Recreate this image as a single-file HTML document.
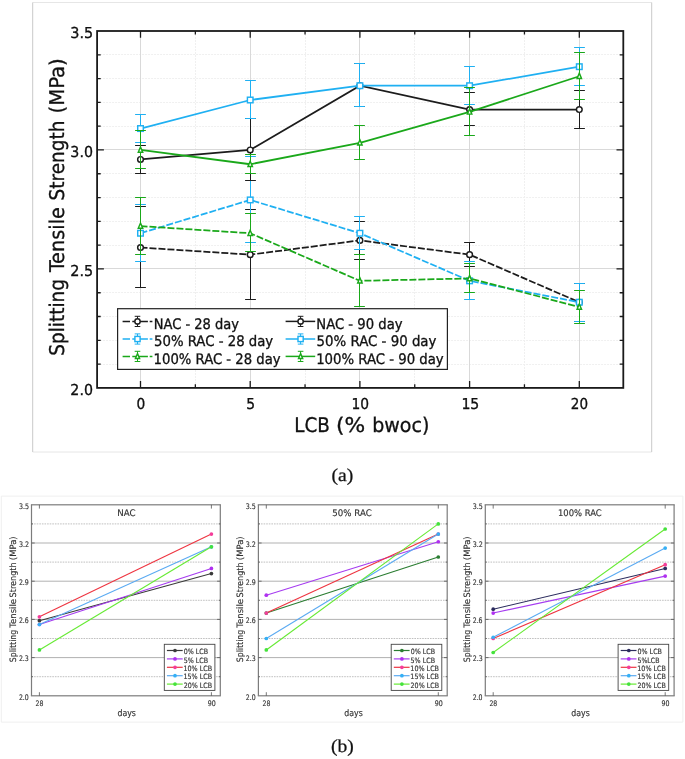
<!DOCTYPE html>
<html lang="en"><head><meta charset="utf-8"><title>Splitting Tensile Strength</title>
<style>html,body{margin:0;padding:0;background:#fff;}body{width:685px;height:759px;overflow:hidden;}svg{display:block;}text{text-rendering:geometricPrecision;}.t{font-family:"DejaVu Sans Condensed", "DejaVu Sans", "Liberation Sans", sans-serif;fill:#111;stroke:#111;stroke-width:0.3px;}.b{font-family:"DejaVu Sans Condensed", "DejaVu Sans", "Liberation Sans", sans-serif;fill:#333;stroke:#333;stroke-width:0.15px;}.s{font-family:"Liberation Serif", serif;fill:#111;stroke:#111;stroke-width:0.25px;}</style></head><body>
<svg width="685" height="759" viewBox="0 0 685 759">
<rect width="685" height="759" fill="#fff"/>
<g fill="none">
<path d="M32.7 2.5 H651.7" stroke="#e6e6e6" stroke-width="1"/>
<path d="M32.7 452.0 H651.7" stroke="#e6e6e6" stroke-width="1"/>
<path d="M32.7 2.5 V452.0 M651.7 2.5 V452.0" stroke="#c9c9c9" stroke-width="1"/>
</g>
<g fill="none">
<path d="M97.1 364.50 H623.3 M97.1 340.50 H623.3 M97.1 316.50 H623.3 M97.1 292.50 H623.3 M97.1 245.50 H623.3 M97.1 221.50 H623.3 M97.1 197.50 H623.3 M97.1 173.50 H623.3 M97.1 126.50 H623.3 M97.1 102.50 H623.3 M97.1 78.50 H623.3 M97.1 54.50 H623.3 " stroke="#f0f0f0" stroke-width="1" stroke-dasharray="2 1"/>
<path d="M195.50 31.0 V387.9 M305.50 31.0 V387.9 M414.50 31.0 V387.9 M524.50 31.0 V387.9 " stroke="#f0f0f0" stroke-width="1" stroke-dasharray="2 1"/>
<path d="M97.1 268.50 H623.3 M97.1 149.50 H623.3 M140.50 31.0 V387.9 M250.50 31.0 V387.9 M359.50 31.0 V387.9 M469.50 31.0 V387.9 M579.50 31.0 V387.9 " stroke="#d9d9d9" stroke-width="1"/>
</g>
<polyline points="140.50,247.52 250.20,254.66 359.90,240.38 469.60,254.66 579.30,302.24" fill="none" stroke="#1c1c1c" stroke-width="1.75" stroke-dasharray="7 2"/>
<path d="M140.50 206.50 V287.50 M135.10 206.50 h10.8 M135.10 287.50 h10.8 M250.50 209.50 V299.50 M245.10 209.50 h10.8 M245.10 299.50 h10.8 M359.50 221.50 V259.50 M354.10 221.50 h10.8 M354.10 259.50 h10.8 M469.50 242.50 V266.50 M464.10 242.50 h10.8 M464.10 266.50 h10.8 M579.50 283.50 V321.50 M574.10 283.50 h10.8 M574.10 321.50 h10.8 " fill="none" stroke="#1c1c1c" stroke-width="1"/>
<circle cx="140.50" cy="247.52" r="2.85" fill="#fff" stroke="#1c1c1c" stroke-width="1.45"/>
<circle cx="250.20" cy="254.66" r="2.85" fill="#fff" stroke="#1c1c1c" stroke-width="1.45"/>
<circle cx="359.90" cy="240.38" r="2.85" fill="#fff" stroke="#1c1c1c" stroke-width="1.45"/>
<circle cx="469.60" cy="254.66" r="2.85" fill="#fff" stroke="#1c1c1c" stroke-width="1.45"/>
<circle cx="579.30" cy="302.24" r="2.85" fill="#fff" stroke="#1c1c1c" stroke-width="1.45"/>
<polyline points="140.50,233.24 250.20,199.93 359.90,233.24 469.60,280.83 579.30,302.24" fill="none" stroke="#1fb0f2" stroke-width="1.75" stroke-dasharray="7 2"/>
<path d="M140.50 204.50 V261.50 M135.10 204.50 h10.8 M135.10 261.50 h10.8 M250.50 156.50 V242.50 M245.10 156.50 h10.8 M245.10 242.50 h10.8 M359.50 216.50 V249.50 M354.10 216.50 h10.8 M354.10 249.50 h10.8 M469.50 261.50 V299.50 M464.10 261.50 h10.8 M464.10 299.50 h10.8 M579.50 283.50 V321.50 M574.10 283.50 h10.8 M574.10 321.50 h10.8 " fill="none" stroke="#1fb0f2" stroke-width="1"/>
<rect x="137.71" y="230.45" width="5.58" height="5.58" fill="#fff" stroke="#1fb0f2" stroke-width="1.45"/>
<rect x="247.41" y="197.14" width="5.58" height="5.58" fill="#fff" stroke="#1fb0f2" stroke-width="1.45"/>
<rect x="357.11" y="230.45" width="5.58" height="5.58" fill="#fff" stroke="#1fb0f2" stroke-width="1.45"/>
<rect x="466.81" y="278.04" width="5.58" height="5.58" fill="#fff" stroke="#1fb0f2" stroke-width="1.45"/>
<rect x="576.51" y="299.45" width="5.58" height="5.58" fill="#fff" stroke="#1fb0f2" stroke-width="1.45"/>
<polyline points="140.50,226.11 250.20,233.24 359.90,280.83 469.60,278.45 579.30,307.00" fill="none" stroke="#1aa81a" stroke-width="1.75" stroke-dasharray="7 2"/>
<path d="M140.50 197.50 V254.50 M135.10 197.50 h10.8 M135.10 254.50 h10.8 M250.50 213.50 V251.50 M245.10 213.50 h10.8 M245.10 251.50 h10.8 M359.50 254.50 V306.50 M354.10 254.50 h10.8 M354.10 306.50 h10.8 M469.50 263.50 V292.50 M464.10 263.50 h10.8 M464.10 292.50 h10.8 M579.50 290.50 V323.50 M574.10 290.50 h10.8 M574.10 323.50 h10.8 " fill="none" stroke="#1aa81a" stroke-width="1"/>
<path d="M140.50 223.05 L142.72 228.33 L138.28 228.33 Z" fill="#fff" stroke="#1aa81a" stroke-width="1.45" stroke-linejoin="miter"/>
<path d="M250.20 230.18 L252.42 235.46 L247.98 235.46 Z" fill="#fff" stroke="#1aa81a" stroke-width="1.45" stroke-linejoin="miter"/>
<path d="M359.90 277.77 L362.12 283.05 L357.68 283.05 Z" fill="#fff" stroke="#1aa81a" stroke-width="1.45" stroke-linejoin="miter"/>
<path d="M469.60 275.39 L471.82 280.67 L467.38 280.67 Z" fill="#fff" stroke="#1aa81a" stroke-width="1.45" stroke-linejoin="miter"/>
<path d="M579.30 303.94 L581.52 309.22 L577.08 309.22 Z" fill="#fff" stroke="#1aa81a" stroke-width="1.45" stroke-linejoin="miter"/>
<polyline points="140.50,159.48 250.20,149.97 359.90,85.72 469.60,109.52 579.30,109.52" fill="none" stroke="#1c1c1c" stroke-width="1.75"/>
<path d="M140.50 145.50 V173.50 M135.10 145.50 h10.8 M135.10 173.50 h10.8 M250.50 118.50 V180.50 M245.10 118.50 h10.8 M245.10 180.50 h10.8 M359.50 63.50 V106.50 M354.10 63.50 h10.8 M354.10 106.50 h10.8 M469.50 92.50 V125.50 M464.10 92.50 h10.8 M464.10 125.50 h10.8 M579.50 90.50 V128.50 M574.10 90.50 h10.8 M574.10 128.50 h10.8 " fill="none" stroke="#1c1c1c" stroke-width="1"/>
<circle cx="140.50" cy="159.48" r="2.85" fill="#fff" stroke="#1c1c1c" stroke-width="1.45"/>
<circle cx="250.20" cy="149.97" r="2.85" fill="#fff" stroke="#1c1c1c" stroke-width="1.45"/>
<circle cx="359.90" cy="85.72" r="2.85" fill="#fff" stroke="#1c1c1c" stroke-width="1.45"/>
<circle cx="469.60" cy="109.52" r="2.85" fill="#fff" stroke="#1c1c1c" stroke-width="1.45"/>
<circle cx="579.30" cy="109.52" r="2.85" fill="#fff" stroke="#1c1c1c" stroke-width="1.45"/>
<polyline points="140.50,128.55 250.20,100.00 359.90,85.72 469.60,85.72 579.30,66.69" fill="none" stroke="#1fb0f2" stroke-width="1.75"/>
<path d="M140.50 114.50 V142.50 M135.10 114.50 h10.8 M135.10 142.50 h10.8 M250.50 80.50 V118.50 M245.10 80.50 h10.8 M245.10 118.50 h10.8 M359.50 63.50 V106.50 M354.10 63.50 h10.8 M354.10 106.50 h10.8 M469.50 66.50 V104.50 M464.10 66.50 h10.8 M464.10 104.50 h10.8 M579.50 47.50 V85.50 M574.10 47.50 h10.8 M574.10 85.50 h10.8 " fill="none" stroke="#1fb0f2" stroke-width="1"/>
<rect x="137.71" y="125.76" width="5.58" height="5.58" fill="#fff" stroke="#1fb0f2" stroke-width="1.45"/>
<rect x="247.41" y="97.21" width="5.58" height="5.58" fill="#fff" stroke="#1fb0f2" stroke-width="1.45"/>
<rect x="357.11" y="82.93" width="5.58" height="5.58" fill="#fff" stroke="#1fb0f2" stroke-width="1.45"/>
<rect x="466.81" y="82.93" width="5.58" height="5.58" fill="#fff" stroke="#1fb0f2" stroke-width="1.45"/>
<rect x="576.51" y="63.90" width="5.58" height="5.58" fill="#fff" stroke="#1fb0f2" stroke-width="1.45"/>
<polyline points="140.50,149.97 250.20,164.24 359.90,142.83 469.60,111.90 579.30,76.21" fill="none" stroke="#1aa81a" stroke-width="1.75"/>
<path d="M140.50 130.50 V168.50 M135.10 130.50 h10.8 M135.10 168.50 h10.8 M250.50 154.50 V173.50 M245.10 154.50 h10.8 M245.10 173.50 h10.8 M359.50 125.50 V159.50 M354.10 125.50 h10.8 M354.10 159.50 h10.8 M469.50 87.50 V135.50 M464.10 87.50 h10.8 M464.10 135.50 h10.8 M579.50 52.50 V99.50 M574.10 52.50 h10.8 M574.10 99.50 h10.8 " fill="none" stroke="#1aa81a" stroke-width="1"/>
<path d="M140.50 146.91 L142.72 152.19 L138.28 152.19 Z" fill="#fff" stroke="#1aa81a" stroke-width="1.45" stroke-linejoin="miter"/>
<path d="M250.20 161.18 L252.42 166.46 L247.98 166.46 Z" fill="#fff" stroke="#1aa81a" stroke-width="1.45" stroke-linejoin="miter"/>
<path d="M359.90 139.77 L362.12 145.05 L357.68 145.05 Z" fill="#fff" stroke="#1aa81a" stroke-width="1.45" stroke-linejoin="miter"/>
<path d="M469.60 108.84 L471.82 114.12 L467.38 114.12 Z" fill="#fff" stroke="#1aa81a" stroke-width="1.45" stroke-linejoin="miter"/>
<path d="M579.30 73.15 L581.52 78.43 L577.08 78.43 Z" fill="#fff" stroke="#1aa81a" stroke-width="1.45" stroke-linejoin="miter"/>
<rect x="117.6" y="308.7" width="329.8" height="60.7" fill="#fff" stroke="#222" stroke-width="1.2"/>
<path d="M122.6 321.4 H152.4" stroke="#1c1c1c" stroke-width="1.5" fill="none" stroke-dasharray="7.4 2.3 15.6 1.8 2.7"/>
<path d="M137.5 316.29999999999995 V326.5 M134.7 316.29999999999995 h5.6 M134.7 326.5 h5.6" stroke="#1c1c1c" stroke-width="1" fill="none"/>
<circle cx="137.50" cy="321.40" r="2.66" fill="#fff" stroke="#1c1c1c" stroke-width="1.45"/>
<text class="t" transform="translate(153.74 328.60) scale(1.0003 1)" font-size="14.5">NAC - 28 day</text>
<path d="M122.6 339.0 H152.4" stroke="#1fb0f2" stroke-width="1.5" fill="none" stroke-dasharray="7.4 2.3 15.6 1.8 2.7"/>
<path d="M137.5 333.9 V344.1 M134.7 333.9 h5.6 M134.7 344.1 h5.6" stroke="#1fb0f2" stroke-width="1" fill="none"/>
<rect x="134.90" y="336.40" width="5.21" height="5.21" fill="#fff" stroke="#1fb0f2" stroke-width="1.45"/>
<text class="t" transform="translate(154.01 346.20) scale(1.0179 1)" font-size="14.5">50% RAC - 28 day</text>
<path d="M122.6 356.4 H152.4" stroke="#1aa81a" stroke-width="1.5" fill="none" stroke-dasharray="7.4 2.3 15.6 1.8 2.7"/>
<path d="M137.5 351.29999999999995 V361.5 M134.7 351.29999999999995 h5.6 M134.7 361.5 h5.6" stroke="#1aa81a" stroke-width="1" fill="none"/>
<path d="M137.50 353.54 L139.57 358.47 L135.43 358.47 Z" fill="#fff" stroke="#1aa81a" stroke-width="1.45" stroke-linejoin="miter"/>
<text class="t" transform="translate(153.58 363.60) scale(1.0131 1)" font-size="14.5">100% RAC - 28 day</text>
<path d="M285.6 321.4 H315.2" stroke="#1c1c1c" stroke-width="1.5" fill="none"/>
<path d="M300.6 316.29999999999995 V326.5 M297.8 316.29999999999995 h5.6 M297.8 326.5 h5.6" stroke="#1c1c1c" stroke-width="1" fill="none"/>
<circle cx="300.60" cy="321.40" r="2.66" fill="#fff" stroke="#1c1c1c" stroke-width="1.45"/>
<text class="t" transform="translate(316.33 328.60) scale(1.0110 1)" font-size="14.5">NAC - 90 day</text>
<path d="M285.6 339.0 H315.2" stroke="#1fb0f2" stroke-width="1.5" fill="none"/>
<path d="M300.6 333.9 V344.1 M297.8 333.9 h5.6 M297.8 344.1 h5.6" stroke="#1fb0f2" stroke-width="1" fill="none"/>
<rect x="298.00" y="336.40" width="5.21" height="5.21" fill="#fff" stroke="#1fb0f2" stroke-width="1.45"/>
<text class="t" transform="translate(316.61 346.20) scale(1.0231 1)" font-size="14.5">50% RAC - 90 day</text>
<path d="M285.6 356.4 H315.2" stroke="#1aa81a" stroke-width="1.5" fill="none"/>
<path d="M300.6 351.29999999999995 V361.5 M297.8 351.29999999999995 h5.6 M297.8 361.5 h5.6" stroke="#1aa81a" stroke-width="1" fill="none"/>
<path d="M300.60 353.54 L302.67 358.47 L298.53 358.47 Z" fill="#fff" stroke="#1aa81a" stroke-width="1.45" stroke-linejoin="miter"/>
<text class="t" transform="translate(316.17 363.60) scale(1.0171 1)" font-size="14.5">100% RAC - 90 day</text>
<rect x="97.1" y="31.0" width="526.2" height="356.9" fill="none" stroke="#1a1a1a" stroke-width="1.8"/>
<path d="M97.1 364.11 h3.6 M623.3 364.11 h-3.6 M97.1 340.31 h3.6 M623.3 340.31 h-3.6 M97.1 316.52 h3.6 M623.3 316.52 h-3.6 M97.1 292.73 h3.6 M623.3 292.73 h-3.6 M97.1 268.93 h6.8 M623.3 268.93 h-6.8 M97.1 245.14 h3.6 M623.3 245.14 h-3.6 M97.1 221.35 h3.6 M623.3 221.35 h-3.6 M97.1 197.55 h3.6 M623.3 197.55 h-3.6 M97.1 173.76 h3.6 M623.3 173.76 h-3.6 M97.1 149.97 h6.8 M623.3 149.97 h-6.8 M97.1 126.17 h3.6 M623.3 126.17 h-3.6 M97.1 102.38 h3.6 M623.3 102.38 h-3.6 M97.1 78.59 h3.6 M623.3 78.59 h-3.6 M97.1 54.79 h3.6 M623.3 54.79 h-3.6 M140.50 387.9 v-6.8 M140.50 31.0 v6.8 M195.35 387.9 v-3.6 M195.35 31.0 v3.6 M250.20 387.9 v-6.8 M250.20 31.0 v6.8 M305.05 387.9 v-3.6 M305.05 31.0 v3.6 M359.90 387.9 v-6.8 M359.90 31.0 v6.8 M414.75 387.9 v-3.6 M414.75 31.0 v3.6 M469.60 387.9 v-6.8 M469.60 31.0 v6.8 M524.45 387.9 v-3.6 M524.45 31.0 v3.6 M579.30 387.9 v-6.8 M579.30 31.0 v6.8 " stroke="#1a1a1a" stroke-width="1.3" fill="none"/>
<text class="t" transform="translate(70.34 38.45) scale(1.0684 1)" font-size="15.0">3.5</text>
<text class="t" transform="translate(70.35 157.00) scale(1.0522 1)" font-size="15.0">3.0</text>
<text class="t" transform="translate(70.34 276.20) scale(1.0684 1)" font-size="15.0">2.5</text>
<text class="t" transform="translate(70.35 395.00) scale(1.0522 1)" font-size="15.0">2.0</text>
<text class="t" transform="translate(136.53 408.60) scale(1.0213 1)" font-size="15.0">0</text>
<text class="t" transform="translate(246.27 408.60) scale(1.0303 1)" font-size="15.0">5</text>
<text class="t" transform="translate(351.52 408.60) scale(1.0243 1)" font-size="15.0">10</text>
<text class="t" transform="translate(461.39 408.60) scale(1.0452 1)" font-size="15.0">15</text>
<text class="t" transform="translate(570.80 408.60) scale(1.0010 1)" font-size="15.0">20</text>
<text class="t" y="431.60" font-size="20.2"><tspan x="294.27" textLength="35.60" lengthAdjust="spacingAndGlyphs">LCB</tspan> <tspan x="336.01" textLength="29.18" lengthAdjust="spacingAndGlyphs">(%</tspan> <tspan x="372.21" textLength="57.20" lengthAdjust="spacingAndGlyphs">bwoc)</tspan></text>
<text class="t" transform="translate(64.30 0) rotate(-90)" y="0" font-size="20.3"><tspan x="-355.83" textLength="76.90" lengthAdjust="spacingAndGlyphs">Splitting</tspan> <tspan x="-272.09" textLength="65.02" lengthAdjust="spacingAndGlyphs">Tensile</tspan> <tspan x="-200.43" textLength="79.87" lengthAdjust="spacingAndGlyphs">Strength</tspan> <tspan x="-113.53" textLength="55.29" lengthAdjust="spacingAndGlyphs">(MPa)</tspan></text>
<text class="s" transform="translate(331.41 480.90) scale(1.0809 1)" font-size="18.2">(a)</text>
<text class="s" transform="translate(331.02 751.80) scale(1.0756 1)" font-size="18.2">(b)</text>
<path d="M1.3 496.1 H682.9 M1.3 722.1 H682.9" stroke="#efefef" stroke-width="1" fill="none"/>
<path d="M1.3 496.1 V722.1 M682.9 496.1 V722.1" stroke="#efefef" stroke-width="1" fill="none"/>
<g transform="translate(0.0 0)">
<path d="M31.5 657.60 H220.3 M31.5 619.40 H220.3 M31.5 581.20 H220.3 M31.5 543.00 H220.3 " stroke="#a8a8a8" stroke-width="0.9" fill="none"/>
<path d="M31.5 676.70 H220.3 M31.5 638.50 H220.3 M31.5 600.30 H220.3 M31.5 562.10 H220.3 M31.5 523.90 H220.3 " stroke="#b0b0b0" stroke-width="0.8" stroke-dasharray="1.6 1" fill="none"/>
<path d="M39.4 620.67 L211.4 573.56" stroke="#3a3a3a" stroke-width="1.1" fill="none"/>
<path d="M39.4 624.49 L211.4 568.47" stroke="#a63cf0" stroke-width="1.1" fill="none"/>
<path d="M39.4 616.85 L211.4 534.09" stroke="#ee3440" stroke-width="1.1" fill="none"/>
<path d="M39.4 624.49 L211.4 546.82" stroke="#5aaaf2" stroke-width="1.1" fill="none"/>
<path d="M39.4 649.96 L211.4 546.82" stroke="#66ea33" stroke-width="1.1" fill="none"/>
<circle cx="39.4" cy="620.67" r="1.85" fill="#3a3a3a"/><circle cx="211.4" cy="573.56" r="1.85" fill="#3a3a3a"/>
<circle cx="39.4" cy="624.49" r="1.85" fill="#b030f0"/><circle cx="211.4" cy="568.47" r="1.85" fill="#b030f0"/>
<circle cx="39.4" cy="616.85" r="1.85" fill="#f43d9a"/><circle cx="211.4" cy="534.09" r="1.85" fill="#f43d9a"/>
<circle cx="39.4" cy="624.49" r="1.85" fill="#35b0f5"/><circle cx="211.4" cy="546.82" r="1.85" fill="#35b0f5"/>
<circle cx="39.4" cy="649.96" r="1.85" fill="#44e23c"/><circle cx="211.4" cy="546.82" r="1.85" fill="#44e23c"/>
<path d="M30.9 504.8 H220.9 M30.9 695.8 H220.9" fill="none" stroke="#969696" stroke-width="1.5"/>
<path d="M31.5 504.8 V695.8 M220.3 504.8 V695.8" fill="none" stroke="#7c7c7c" stroke-width="1.2"/>
<path d="M31.5 676.70 h1.5 M220.3 676.70 h-1.5 M31.5 657.60 h3.2 M220.3 657.60 h-3.2 M31.5 638.50 h1.5 M220.3 638.50 h-1.5 M31.5 619.40 h3.2 M220.3 619.40 h-3.2 M31.5 600.30 h1.5 M220.3 600.30 h-1.5 M31.5 581.20 h3.2 M220.3 581.20 h-3.2 M31.5 562.10 h1.5 M220.3 562.10 h-1.5 M31.5 543.00 h3.2 M220.3 543.00 h-3.2 M31.5 523.90 h1.5 M220.3 523.90 h-1.5 M39.4 695.8 v-3.6 M39.4 504.8 v3.8 M211.4 695.8 v-3.6 M211.4 504.8 v3.8 " stroke="#555" stroke-width="0.8" fill="none"/>
<text class="b" transform="translate(18.89 699.60) scale(0.9085 1)" font-size="7.6">2.0</text>
<text class="b" transform="translate(18.88 661.40) scale(0.9155 1)" font-size="7.6">2.3</text>
<text class="b" transform="translate(18.89 623.20) scale(0.9085 1)" font-size="7.6">2.6</text>
<text class="b" transform="translate(18.88 585.00) scale(0.9155 1)" font-size="7.6">2.9</text>
<text class="b" transform="translate(18.88 546.80) scale(0.9297 1)" font-size="7.6">3.2</text>
<text class="b" transform="translate(18.88 508.60) scale(0.9225 1)" font-size="7.6">3.5</text>
<text class="b" transform="translate(35.59 705.80) scale(0.9050 1)" font-size="7.6">28</text>
<text class="b" transform="translate(207.75 705.80) scale(0.9216 1)" font-size="7.6">90</text>
<text class="b" transform="translate(117.45 715.50) scale(0.9672 1)" font-size="9.0">days</text>
<text class="b" transform="translate(117.23 516.40) scale(1.0669 1)" font-size="9.0">NAC</text>
<text class="b" transform="translate(16.00 0) rotate(-90)" y="0" font-size="8.8"><tspan x="-662.23" textLength="32.44" lengthAdjust="spacingAndGlyphs">Splitting</tspan> <tspan x="-627.70" textLength="28.82" lengthAdjust="spacingAndGlyphs">Tensile</tspan> <tspan x="-597.45" textLength="35.09" lengthAdjust="spacingAndGlyphs">Strength</tspan> <tspan x="-560.16" textLength="23.83" lengthAdjust="spacingAndGlyphs">(MPa)</tspan></text>
<rect x="164.3" y="644.3" width="50.6" height="46.1" fill="#fff" stroke="#444" stroke-width="0.9"/>
<path d="M166.9 650.50 H182.7" stroke="#3a3a3a" stroke-width="1.2" fill="none"/>
<circle cx="175.0" cy="650.50" r="1.85" fill="#3a3a3a"/>
<text class="b" transform="translate(183.75 654.10) scale(0.9644 1)" font-size="7.3">0% LCB</text>
<path d="M166.9 658.90 H182.7" stroke="#a63cf0" stroke-width="1.2" fill="none"/>
<circle cx="175.0" cy="658.90" r="1.85" fill="#b030f0"/>
<text class="b" transform="translate(183.68 662.50) scale(0.9673 1)" font-size="7.3">5% LCB</text>
<path d="M166.9 667.30 H182.7" stroke="#ee3440" stroke-width="1.2" fill="none"/>
<circle cx="175.0" cy="667.30" r="1.85" fill="#f43d9a"/>
<text class="b" transform="translate(183.46 670.90) scale(0.9733 1)" font-size="7.3">10% LCB</text>
<path d="M166.9 675.70 H182.7" stroke="#5aaaf2" stroke-width="1.2" fill="none"/>
<circle cx="175.0" cy="675.70" r="1.85" fill="#35b0f5"/>
<text class="b" transform="translate(183.46 679.30) scale(0.9733 1)" font-size="7.3">15% LCB</text>
<path d="M166.9 684.10 H182.7" stroke="#66ea33" stroke-width="1.2" fill="none"/>
<circle cx="175.0" cy="684.10" r="1.85" fill="#44e23c"/>
<text class="b" transform="translate(183.68 687.70) scale(0.9658 1)" font-size="7.3">20% LCB</text>
</g>
<g transform="translate(226.9 0)">
<path d="M31.5 657.60 H220.3 M31.5 619.40 H220.3 M31.5 581.20 H220.3 M31.5 543.00 H220.3 " stroke="#a8a8a8" stroke-width="0.9" fill="none"/>
<path d="M31.5 676.70 H220.3 M31.5 638.50 H220.3 M31.5 600.30 H220.3 M31.5 562.10 H220.3 M31.5 523.90 H220.3 " stroke="#b0b0b0" stroke-width="0.8" stroke-dasharray="1.6 1" fill="none"/>
<path d="M39.4 613.03 L211.4 557.01" stroke="#2b7d32" stroke-width="1.1" fill="none"/>
<path d="M39.4 595.21 L211.4 541.73" stroke="#a63cf0" stroke-width="1.1" fill="none"/>
<path d="M39.4 613.03 L211.4 534.09" stroke="#ee3440" stroke-width="1.1" fill="none"/>
<path d="M39.4 638.50 L211.4 534.09" stroke="#5aaaf2" stroke-width="1.1" fill="none"/>
<path d="M39.4 649.96 L211.4 523.90" stroke="#66ea33" stroke-width="1.1" fill="none"/>
<circle cx="39.4" cy="613.03" r="1.85" fill="#2b7d32"/><circle cx="211.4" cy="557.01" r="1.85" fill="#2b7d32"/>
<circle cx="39.4" cy="595.21" r="1.85" fill="#b030f0"/><circle cx="211.4" cy="541.73" r="1.85" fill="#b030f0"/>
<circle cx="39.4" cy="613.03" r="1.85" fill="#f43d9a"/><circle cx="211.4" cy="534.09" r="1.85" fill="#f43d9a"/>
<circle cx="39.4" cy="638.50" r="1.85" fill="#35b0f5"/><circle cx="211.4" cy="534.09" r="1.85" fill="#35b0f5"/>
<circle cx="39.4" cy="649.96" r="1.85" fill="#44e23c"/><circle cx="211.4" cy="523.90" r="1.85" fill="#44e23c"/>
<path d="M30.9 504.8 H220.9 M30.9 695.8 H220.9" fill="none" stroke="#969696" stroke-width="1.5"/>
<path d="M31.5 504.8 V695.8 M220.3 504.8 V695.8" fill="none" stroke="#7c7c7c" stroke-width="1.2"/>
<path d="M31.5 676.70 h1.5 M220.3 676.70 h-1.5 M31.5 657.60 h3.2 M220.3 657.60 h-3.2 M31.5 638.50 h1.5 M220.3 638.50 h-1.5 M31.5 619.40 h3.2 M220.3 619.40 h-3.2 M31.5 600.30 h1.5 M220.3 600.30 h-1.5 M31.5 581.20 h3.2 M220.3 581.20 h-3.2 M31.5 562.10 h1.5 M220.3 562.10 h-1.5 M31.5 543.00 h3.2 M220.3 543.00 h-3.2 M31.5 523.90 h1.5 M220.3 523.90 h-1.5 M39.4 695.8 v-3.6 M39.4 504.8 v3.8 M211.4 695.8 v-3.6 M211.4 504.8 v3.8 " stroke="#555" stroke-width="0.8" fill="none"/>
<text class="b" transform="translate(18.89 699.60) scale(0.9085 1)" font-size="7.6">2.0</text>
<text class="b" transform="translate(18.88 661.40) scale(0.9155 1)" font-size="7.6">2.3</text>
<text class="b" transform="translate(18.89 623.20) scale(0.9085 1)" font-size="7.6">2.6</text>
<text class="b" transform="translate(18.88 585.00) scale(0.9155 1)" font-size="7.6">2.9</text>
<text class="b" transform="translate(18.88 546.80) scale(0.9297 1)" font-size="7.6">3.2</text>
<text class="b" transform="translate(18.88 508.60) scale(0.9225 1)" font-size="7.6">3.5</text>
<text class="b" transform="translate(35.59 705.80) scale(0.9050 1)" font-size="7.6">28</text>
<text class="b" transform="translate(207.75 705.80) scale(0.9216 1)" font-size="7.6">90</text>
<text class="b" transform="translate(117.45 715.50) scale(0.9672 1)" font-size="9.0">days</text>
<text class="b" transform="translate(105.42 516.40) scale(1.0673 1)" font-size="9.0">50% RAC</text>
<text class="b" transform="translate(16.00 0) rotate(-90)" y="0" font-size="8.8"><tspan x="-662.23" textLength="32.44" lengthAdjust="spacingAndGlyphs">Splitting</tspan> <tspan x="-627.70" textLength="28.82" lengthAdjust="spacingAndGlyphs">Tensile</tspan> <tspan x="-597.45" textLength="35.09" lengthAdjust="spacingAndGlyphs">Strength</tspan> <tspan x="-560.16" textLength="23.83" lengthAdjust="spacingAndGlyphs">(MPa)</tspan></text>
<rect x="164.3" y="644.3" width="50.6" height="46.1" fill="#fff" stroke="#444" stroke-width="0.9"/>
<path d="M166.9 650.50 H182.7" stroke="#2b7d32" stroke-width="1.2" fill="none"/>
<circle cx="175.0" cy="650.50" r="1.85" fill="#2b7d32"/>
<text class="b" transform="translate(183.75 654.10) scale(0.9644 1)" font-size="7.3">0% LCB</text>
<path d="M166.9 658.90 H182.7" stroke="#a63cf0" stroke-width="1.2" fill="none"/>
<circle cx="175.0" cy="658.90" r="1.85" fill="#b030f0"/>
<text class="b" transform="translate(183.68 662.50) scale(0.9673 1)" font-size="7.3">5% LCB</text>
<path d="M166.9 667.30 H182.7" stroke="#ee3440" stroke-width="1.2" fill="none"/>
<circle cx="175.0" cy="667.30" r="1.85" fill="#f43d9a"/>
<text class="b" transform="translate(183.46 670.90) scale(0.9733 1)" font-size="7.3">10% LCB</text>
<path d="M166.9 675.70 H182.7" stroke="#5aaaf2" stroke-width="1.2" fill="none"/>
<circle cx="175.0" cy="675.70" r="1.85" fill="#35b0f5"/>
<text class="b" transform="translate(183.46 679.30) scale(0.9733 1)" font-size="7.3">15% LCB</text>
<path d="M166.9 684.10 H182.7" stroke="#66ea33" stroke-width="1.2" fill="none"/>
<circle cx="175.0" cy="684.10" r="1.85" fill="#44e23c"/>
<text class="b" transform="translate(183.68 687.70) scale(0.9658 1)" font-size="7.3">20% LCB</text>
</g>
<g transform="translate(453.8 0)">
<path d="M31.5 657.60 H220.3 M31.5 619.40 H220.3 M31.5 581.20 H220.3 M31.5 543.00 H220.3 " stroke="#a8a8a8" stroke-width="0.9" fill="none"/>
<path d="M31.5 676.70 H220.3 M31.5 638.50 H220.3 M31.5 600.30 H220.3 M31.5 562.10 H220.3 M31.5 523.90 H220.3 " stroke="#b0b0b0" stroke-width="0.8" stroke-dasharray="1.6 1" fill="none"/>
<path d="M39.4 609.21 L211.4 568.47" stroke="#2c2c5e" stroke-width="1.1" fill="none"/>
<path d="M39.4 613.03 L211.4 576.11" stroke="#a63cf0" stroke-width="1.1" fill="none"/>
<path d="M39.4 638.50 L211.4 564.65" stroke="#ee3440" stroke-width="1.1" fill="none"/>
<path d="M39.4 637.23 L211.4 548.09" stroke="#5aaaf2" stroke-width="1.1" fill="none"/>
<path d="M39.4 652.51 L211.4 528.99" stroke="#66ea33" stroke-width="1.1" fill="none"/>
<circle cx="39.4" cy="609.21" r="1.85" fill="#2c2c5e"/><circle cx="211.4" cy="568.47" r="1.85" fill="#2c2c5e"/>
<circle cx="39.4" cy="613.03" r="1.85" fill="#b030f0"/><circle cx="211.4" cy="576.11" r="1.85" fill="#b030f0"/>
<circle cx="39.4" cy="638.50" r="1.85" fill="#f43d9a"/><circle cx="211.4" cy="564.65" r="1.85" fill="#f43d9a"/>
<circle cx="39.4" cy="637.23" r="1.85" fill="#35b0f5"/><circle cx="211.4" cy="548.09" r="1.85" fill="#35b0f5"/>
<circle cx="39.4" cy="652.51" r="1.85" fill="#44e23c"/><circle cx="211.4" cy="528.99" r="1.85" fill="#44e23c"/>
<path d="M30.9 504.8 H220.9 M30.9 695.8 H220.9" fill="none" stroke="#969696" stroke-width="1.5"/>
<path d="M31.5 504.8 V695.8 M220.3 504.8 V695.8" fill="none" stroke="#7c7c7c" stroke-width="1.2"/>
<path d="M31.5 676.70 h1.5 M220.3 676.70 h-1.5 M31.5 657.60 h3.2 M220.3 657.60 h-3.2 M31.5 638.50 h1.5 M220.3 638.50 h-1.5 M31.5 619.40 h3.2 M220.3 619.40 h-3.2 M31.5 600.30 h1.5 M220.3 600.30 h-1.5 M31.5 581.20 h3.2 M220.3 581.20 h-3.2 M31.5 562.10 h1.5 M220.3 562.10 h-1.5 M31.5 543.00 h3.2 M220.3 543.00 h-3.2 M31.5 523.90 h1.5 M220.3 523.90 h-1.5 M39.4 695.8 v-3.6 M39.4 504.8 v3.8 M211.4 695.8 v-3.6 M211.4 504.8 v3.8 " stroke="#555" stroke-width="0.8" fill="none"/>
<text class="b" transform="translate(18.89 699.60) scale(0.9085 1)" font-size="7.6">2.0</text>
<text class="b" transform="translate(18.88 661.40) scale(0.9155 1)" font-size="7.6">2.3</text>
<text class="b" transform="translate(18.89 623.20) scale(0.9085 1)" font-size="7.6">2.6</text>
<text class="b" transform="translate(18.88 585.00) scale(0.9155 1)" font-size="7.6">2.9</text>
<text class="b" transform="translate(18.88 546.80) scale(0.9297 1)" font-size="7.6">3.2</text>
<text class="b" transform="translate(18.88 508.60) scale(0.9225 1)" font-size="7.6">3.5</text>
<text class="b" transform="translate(35.59 705.80) scale(0.9050 1)" font-size="7.6">28</text>
<text class="b" transform="translate(207.75 705.80) scale(0.9216 1)" font-size="7.6">90</text>
<text class="b" transform="translate(117.45 715.50) scale(0.9672 1)" font-size="9.0">days</text>
<text class="b" transform="translate(104.16 516.40) scale(1.0401 1)" font-size="9.0">100% RAC</text>
<text class="b" transform="translate(16.00 0) rotate(-90)" y="0" font-size="8.8"><tspan x="-662.23" textLength="32.44" lengthAdjust="spacingAndGlyphs">Splitting</tspan> <tspan x="-627.70" textLength="28.82" lengthAdjust="spacingAndGlyphs">Tensile</tspan> <tspan x="-597.45" textLength="35.09" lengthAdjust="spacingAndGlyphs">Strength</tspan> <tspan x="-560.16" textLength="23.83" lengthAdjust="spacingAndGlyphs">(MPa)</tspan></text>
<rect x="164.3" y="644.3" width="50.6" height="46.1" fill="#fff" stroke="#444" stroke-width="0.9"/>
<path d="M166.9 650.50 H182.7" stroke="#2c2c5e" stroke-width="1.2" fill="none"/>
<circle cx="175.0" cy="650.50" r="1.85" fill="#2c2c5e"/>
<text class="b" transform="translate(183.75 654.10) scale(0.9644 1)" font-size="7.3">0% LCB</text>
<path d="M166.9 658.90 H182.7" stroke="#a63cf0" stroke-width="1.2" fill="none"/>
<circle cx="175.0" cy="658.90" r="1.85" fill="#b030f0"/>
<text class="b" transform="translate(183.69 662.50) scale(0.9456 1)" font-size="7.3">5%LCB</text>
<path d="M166.9 667.30 H182.7" stroke="#ee3440" stroke-width="1.2" fill="none"/>
<circle cx="175.0" cy="667.30" r="1.85" fill="#f43d9a"/>
<text class="b" transform="translate(183.46 670.90) scale(0.9733 1)" font-size="7.3">10% LCB</text>
<path d="M166.9 675.70 H182.7" stroke="#5aaaf2" stroke-width="1.2" fill="none"/>
<circle cx="175.0" cy="675.70" r="1.85" fill="#35b0f5"/>
<text class="b" transform="translate(183.46 679.30) scale(0.9733 1)" font-size="7.3">15% LCB</text>
<path d="M166.9 684.10 H182.7" stroke="#66ea33" stroke-width="1.2" fill="none"/>
<circle cx="175.0" cy="684.10" r="1.85" fill="#44e23c"/>
<text class="b" transform="translate(183.68 687.70) scale(0.9658 1)" font-size="7.3">20% LCB</text>
</g>
</svg></body></html>
